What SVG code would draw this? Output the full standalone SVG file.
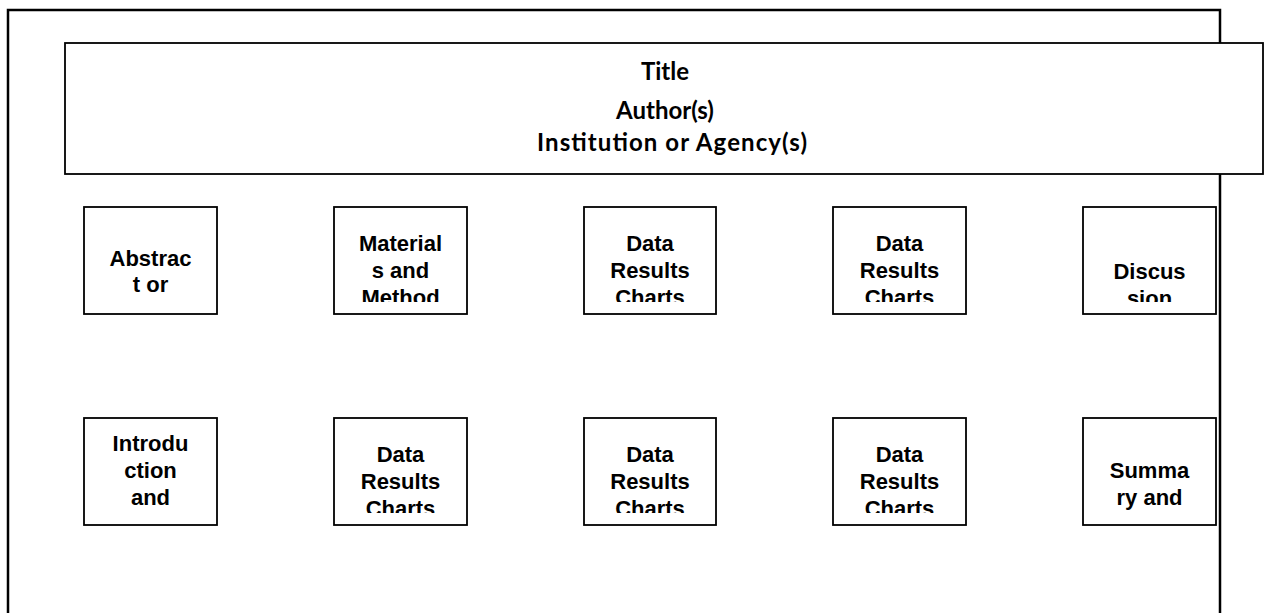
<svg xmlns="http://www.w3.org/2000/svg" width="1264" height="613" viewBox="0 0 1264 613">
<style>
.frame{fill:none;stroke:#000;stroke-width:2.5}
.box{fill:#fff;stroke:#000;stroke-width:1.8}
.t{font-family:"Liberation Sans",Arial,sans-serif;font-weight:bold;font-size:22px;text-anchor:middle;fill:#000}
.h{font-family:Lato,"Liberation Sans",sans-serif;font-weight:bold;font-size:24px;text-anchor:middle;fill:#000}
</style>
<defs>
<clipPath id="r1"><rect x="0" y="212" width="1264" height="90"/></clipPath>
<clipPath id="r2"><rect x="0" y="423" width="1264" height="90"/></clipPath>
</defs>
<rect width="1264" height="613" fill="#fff"/>
<g id="frame"><path class="frame" d="M8,620 V10 H1220 V620"/></g>
<g id="title">
<rect class="box" x="65" y="43" width="1198" height="131"/>
<text class="h" x="665" y="80">Title</text>
<text class="h" x="665" y="119">Author(s)</text>
<text class="h" x="672" y="151" textLength="270" lengthAdjust="spacing">Institution or Agency(s)</text>
</g>
<g id="abstract">
<rect class="box" x="84" y="207" width="133" height="107"/>
<g clip-path="url(#r1)"><text class="t" x="150.5" y="266">Abstrac</text><text class="t" x="150.5" y="292">t or</text></g>
</g>
<g id="materials">
<rect class="box" x="334" y="207" width="133" height="107"/>
<g clip-path="url(#r1)"><text class="t" x="400.5" y="251">Material</text><text class="t" x="400.5" y="278">s and</text><text class="t" x="400.5" y="305">Method</text></g>
</g>
<g id="data1">
<rect class="box" x="584" y="207" width="132" height="107"/>
<g clip-path="url(#r1)"><text class="t" x="650" y="251">Data</text><text class="t" x="650" y="278">Results</text><text class="t" x="650" y="305">Charts</text></g>
</g>
<g id="data2">
<rect class="box" x="833" y="207" width="133" height="107"/>
<g clip-path="url(#r1)"><text class="t" x="899.5" y="251">Data</text><text class="t" x="899.5" y="278">Results</text><text class="t" x="899.5" y="305">Charts</text></g>
</g>
<g id="discussion">
<rect class="box" x="1083" y="207" width="133" height="107"/>
<g clip-path="url(#r1)"><text class="t" x="1149.5" y="279">Discus</text><text class="t" x="1149.5" y="306">sion</text></g>
</g>
<g id="introduction">
<rect class="box" x="84" y="418" width="133" height="107"/>
<g clip-path="url(#r2)"><text class="t" x="150.5" y="451">Introdu</text><text class="t" x="150.5" y="478">ction</text><text class="t" x="150.5" y="505">and</text></g>
</g>
<g id="data3">
<rect class="box" x="334" y="418" width="133" height="107"/>
<g clip-path="url(#r2)"><text class="t" x="400.5" y="462">Data</text><text class="t" x="400.5" y="489">Results</text><text class="t" x="400.5" y="516">Charts</text></g>
</g>
<g id="data4">
<rect class="box" x="584" y="418" width="132" height="107"/>
<g clip-path="url(#r2)"><text class="t" x="650" y="462">Data</text><text class="t" x="650" y="489">Results</text><text class="t" x="650" y="516">Charts</text></g>
</g>
<g id="data5">
<rect class="box" x="833" y="418" width="133" height="107"/>
<g clip-path="url(#r2)"><text class="t" x="899.5" y="462">Data</text><text class="t" x="899.5" y="489">Results</text><text class="t" x="899.5" y="516">Charts</text></g>
</g>
<g id="summary">
<rect class="box" x="1083" y="418" width="133" height="107"/>
<g clip-path="url(#r2)"><text class="t" x="1149.5" y="478">Summa</text><text class="t" x="1149.5" y="505">ry and</text></g>
</g>
<g id="connectors"/>
</svg>
